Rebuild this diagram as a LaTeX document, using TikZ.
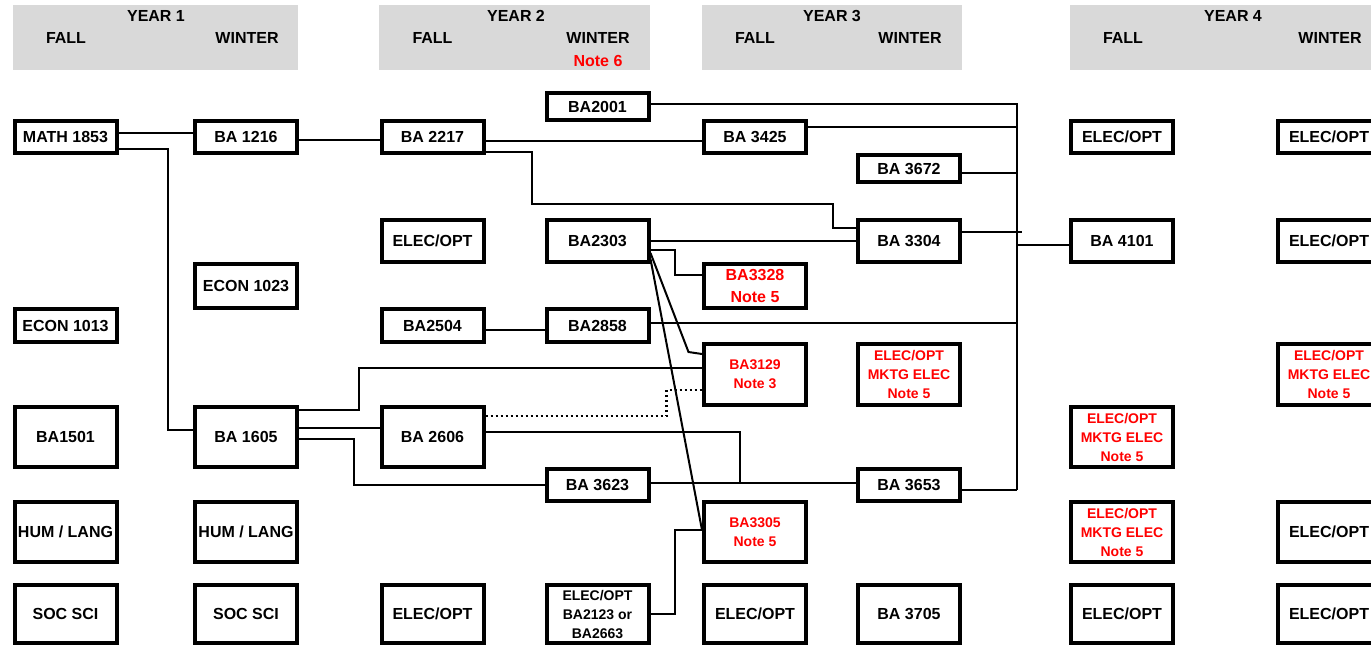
\documentclass[tikz,border=0pt]{standalone}
\usepackage{fontspec}
\setmainfont{Liberation Sans}
\definecolor{hdr}{RGB}{217,217,217}
\definecolor{nred}{RGB}{255,0,0}
\begin{document}
\begin{tikzpicture}[x=1pt,y=-1pt,
  box/.style={draw,line width=4pt,inner sep=0pt,align=center,minimum width=102pt,
    font=\fontsize{16}{22}\selectfont\bfseries},
  sbox/.style={box,font=\fontsize{14}{19}\selectfont\bfseries},
  rtext/.style={text=nred},
  mh/.style={minimum height=#1},
  conn/.style={line width=2pt},
  dotconn/.style={line width=2.5pt,dash pattern=on 2pt off 3pt},
  hd/.style={inner sep=0pt,font=\fontsize{16}{19}\selectfont\bfseries}
]
\useasboundingbox (0,0) rectangle (1371,646);
\clip (0,0) rectangle (1371,646);

% headers
\fill[hdr] (13,5) rectangle (298,70);
\fill[hdr] (379,5) rectangle (650,70);
\fill[hdr] (702,5) rectangle (962,70);
\fill[hdr] (1070,5) rectangle (1380,70);
\node[hd] (y1) at (156,16) {YEAR 1};
\node[hd] (y1f) at (66,38) {FALL};
\node[hd] (y1w) at (247,38) {WINTER};
\node[hd] (y2) at (516,16) {YEAR 2};
\node[hd] (y2f) at (432.5,38) {FALL};
\node[hd] (y2w) at (598,38) {WINTER};
\node[hd,text=nred] (n6) at (598,61) {Note 6};
\node[hd] (y3) at (832,16) {YEAR 3};
\node[hd] (y3f) at (755,38) {FALL};
\node[hd] (y3w) at (910,38) {WINTER};
\node[hd] (y4) at (1233,16) {YEAR 4};
\node[hd] (y4f) at (1123,38) {FALL};
\node[hd] (y4w) at (1330,38) {WINTER};

% column A
\node[box,mh=32] (math) at (65.5,137) {MATH 1853};
\node[box,mh=33] (econ1013) at (65.5,325.5) {ECON 1013};
\node[box,mh=60] (ba1501) at (65.5,437) {BA1501};
\node[box,mh=60] (humA) at (65.5,532) {HUM / LANG};
\node[box,mh=58] (socA) at (65.5,614) {SOC SCI};
% column B
\node[box,mh=32] (ba1216) at (246,137) {BA 1216};
\node[box,mh=44] (econ1023) at (246,286) {ECON 1023};
\node[box,mh=60] (ba1605) at (246,437) {BA 1605};
\node[box,mh=60] (humB) at (246,532) {HUM / LANG};
\node[box,mh=58] (socB) at (246,614) {SOC SCI};
% column C
\node[box,mh=32] (ba2217) at (432.5,137) {BA 2217};
\node[box,mh=42] (elecC1) at (432.5,241) {ELEC/OPT};
\node[box,mh=33] (ba2504) at (432.5,325.5) {BA2504};
\node[box,mh=60] (ba2606) at (432.5,437) {BA 2606};
\node[box,mh=58] (elecC2) at (432.5,614) {ELEC/OPT};
% column D
\node[box,mh=27] (ba2001) at (597.5,106.5) {BA2001};
\node[box,mh=42] (ba2303) at (597.5,241) {BA2303};
\node[box,mh=33] (ba2858) at (597.5,325.5) {BA2858};
\node[box,mh=32] (ba3623) at (597.5,485) {BA 3623};
\node[sbox,mh=58] (elecD) at (597.5,614) {ELEC/OPT\\BA2123 or\\BA2663};
% column E
\node[box,mh=32] (ba3425) at (755,137) {BA 3425};
\node[box,mh=44,rtext] (ba3328) at (755,286) {BA3328\\Note 5};
\node[sbox,mh=61,rtext] (ba3129) at (755,374.5) {BA3129\\Note 3};
\node[sbox,mh=60,rtext] (ba3305) at (755,532) {BA3305\\Note 5};
\node[box,mh=58] (elecE) at (755,614) {ELEC/OPT};
% column F
\node[box,mh=27] (ba3672) at (909,168.5) {BA 3672};
\node[box,mh=42] (ba3304) at (909,241) {BA 3304};
\node[sbox,mh=61,rtext] (mktF) at (909,374.5) {ELEC/OPT\\MKTG ELEC\\Note 5};
\node[box,mh=32] (ba3653) at (909,485) {BA 3653};
\node[box,mh=58] (ba3705) at (909,614) {BA 3705};
% column G
\node[box,mh=32] (elecG1) at (1122,137) {ELEC/OPT};
\node[box,mh=42] (ba4101) at (1122,241) {BA 4101};
\node[sbox,mh=60,rtext] (mktG1) at (1122,437) {ELEC/OPT\\MKTG ELEC\\Note 5};
\node[sbox,mh=60,rtext] (mktG2) at (1122,532) {ELEC/OPT\\MKTG ELEC\\Note 5};
\node[box,mh=58] (elecG2) at (1122,614) {ELEC/OPT};
% column H
\node[box,mh=32] (elecH1) at (1329,137) {ELEC/OPT};
\node[box,mh=42] (elecH2) at (1329,241) {ELEC/OPT};
\node[sbox,mh=61,rtext] (mktH) at (1329,374.5) {ELEC/OPT\\MKTG ELEC\\Note 5};
\node[box,mh=60] (elecH3) at (1329,532) {ELEC/OPT};
\node[box,mh=58] (elecH4) at (1329,614) {ELEC/OPT};

% bus
\coordinate (busB) at (1017,490);

% connectors
\draw[conn] ([yshift=4pt]math.east) -- ([yshift=4pt]ba1216.west);
\draw[conn] ([yshift=-12pt]math.east) -- ++(49,0) |- ([yshift=7pt]ba1605.west);
\draw[conn] ([yshift=-3pt]ba1216.east) -- ([yshift=-3pt]ba2217.west);
\draw[conn] ([yshift=2.5pt]ba2001.east) -| (busB);
\draw[conn] ([yshift=-4pt]ba2217.east) -- ([yshift=-4pt]ba3425.west);
\draw[conn] ([yshift=10pt]ba3425.east) -| (busB);
\draw[conn] ([yshift=-15pt]ba2217.east) -- ++(46,0) -- ++(0,52) -- ++(301,0) |- ([yshift=13pt]ba3304.west);
\draw[conn] ([yshift=-4.5pt]ba3672.east) -| (busB);
\draw[conn] ([yshift=9pt]ba3304.east) -- ++(60,0);
\draw[conn] ([yshift=-4pt]ba4101.west) -| (busB);
\draw[conn] (ba2303.east) -- (ba3304.west);
\draw[conn] ([yshift=-9pt]ba2303.east) -- ++(24,0) |- ([yshift=11pt]ba3328.west);
\draw[conn] ([yshift=-12pt]ba2303.east) -- ++(38,99) -- ([yshift=20.5pt]ba3129.west);
\draw[conn] ([yshift=-18pt]ba2303.east) -- ([yshift=2pt]ba3305.west);
\draw[conn] ([yshift=2.5pt]ba2858.east) -| (busB);
\draw[conn] ([yshift=-4.5pt]ba2504.east) -- ([yshift=-4.5pt]ba2858.west);
\draw[conn] ([yshift=27pt]ba1605.east) -- ++(60,0) |- ([yshift=6.5pt]ba3129.west);
\draw[conn] ([yshift=9pt]ba1605.east) -- ([yshift=9pt]ba2606.west);
\draw[conn] ([yshift=-2pt]ba1605.east) -- ++(55,0) |- (ba3623.west);
\draw[dotconn] ([yshift=21pt]ba2606.east) -- ++(181,0) |- ([yshift=-15.5pt]ba3129.west);
\draw[conn] ([yshift=5pt]ba2606.east) -- ++(254.5,0) |- ([yshift=2pt]ba3653.west);
\draw[conn] ([yshift=2pt]ba3623.east) -- ([yshift=2pt]ba3653.west);
\draw[conn] ([yshift=-5pt]ba3653.east) -- (busB);
\draw[conn] (elecD.east) -- ++(24,0) |- ([yshift=2pt]ba3305.west);
\end{tikzpicture}
\end{document}
